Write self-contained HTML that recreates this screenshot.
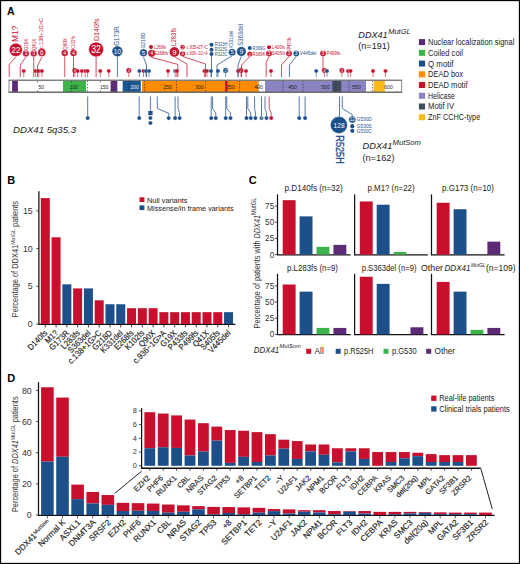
<!DOCTYPE html>
<html><head><meta charset="utf-8"><style>
html,body{margin:0;padding:0;background:#fff;width:520px;height:564px;overflow:hidden}
svg{display:block;font-family:"Liberation Sans", sans-serif}
</style></head><body>
<svg width="520" height="564" viewBox="0 0 520 564">
<rect width="520" height="564" fill="#fff"/>
<text x="7.00" y="14.60" font-size="10.5" fill="#000" font-weight="bold" >A</text>
<rect x="9.00" y="80.40" width="392.60" height="11.80" fill="#fff" />
<rect x="12.10" y="80.40" width="5.80" height="11.80" fill="#5c2b76" />
<rect x="63.00" y="80.40" width="23.00" height="11.80" fill="#3cb44b" />
<rect x="110.60" y="80.40" width="6.70" height="11.80" fill="#5c2b76" />
<rect x="122.70" y="80.40" width="18.10" height="11.80" fill="#1a5893" />
<rect x="142.00" y="80.40" width="116.30" height="11.80" fill="#fd8c00" />
<rect x="225.20" y="80.40" width="2.30" height="11.80" fill="#c8102e" />
<rect x="265.00" y="80.40" width="101.00" height="11.80" fill="#8a84c2" />
<rect x="332.30" y="80.40" width="8.90" height="11.80" fill="#3f4d5e" />
<rect x="373.60" y="80.40" width="11.20" height="11.80" fill="#fbb917" />
<line x1="87.50" y1="80.40" x2="87.50" y2="92.20" stroke="#222" stroke-width="0.6" stroke-dasharray="1.6,1.6"/>
<line x1="144.60" y1="80.40" x2="144.60" y2="92.20" stroke="#222" stroke-width="0.6" stroke-dasharray="1.6,1.6"/>
<line x1="176.50" y1="80.40" x2="176.50" y2="92.20" stroke="#222" stroke-width="0.6" stroke-dasharray="1.6,1.6"/>
<line x1="205.40" y1="80.40" x2="205.40" y2="92.20" stroke="#222" stroke-width="0.6" stroke-dasharray="1.6,1.6"/>
<line x1="239.60" y1="80.40" x2="239.60" y2="92.20" stroke="#222" stroke-width="0.6" stroke-dasharray="1.6,1.6"/>
<line x1="282.90" y1="80.40" x2="282.90" y2="92.20" stroke="#222" stroke-width="0.6" stroke-dasharray="1.6,1.6"/>
<line x1="303.00" y1="80.40" x2="303.00" y2="92.20" stroke="#222" stroke-width="0.6" stroke-dasharray="1.6,1.6"/>
<line x1="335.80" y1="80.40" x2="335.80" y2="92.20" stroke="#222" stroke-width="0.6" stroke-dasharray="1.6,1.6"/>
<line x1="349.20" y1="80.40" x2="349.20" y2="92.20" stroke="#222" stroke-width="0.6" stroke-dasharray="1.6,1.6"/>
<line x1="372.50" y1="80.40" x2="372.50" y2="92.20" stroke="#222" stroke-width="0.6" stroke-dasharray="1.6,1.6"/>
<line x1="128.80" y1="80.40" x2="128.80" y2="92.20" stroke="#222" stroke-width="0.6" stroke-dasharray="1.6,1.6"/>
<line x1="258.80" y1="80.40" x2="258.80" y2="92.20" stroke="#222" stroke-width="0.6" stroke-dasharray="1.6,1.6"/>
<text x="41.20" y="89.30" font-size="5.8" fill="#222" text-anchor="middle" textLength="5.60" lengthAdjust="spacingAndGlyphs" >50</text>
<text x="73.90" y="89.30" font-size="5.8" fill="#222" text-anchor="middle" textLength="8.30" lengthAdjust="spacingAndGlyphs" >100</text>
<text x="104.10" y="89.30" font-size="5.8" fill="#222" text-anchor="middle" textLength="8.30" lengthAdjust="spacingAndGlyphs" >150</text>
<text x="134.70" y="89.30" font-size="5.8" fill="#eef" text-anchor="middle" textLength="8.30" lengthAdjust="spacingAndGlyphs" >200</text>
<text x="167.60" y="89.30" font-size="5.8" fill="#222" text-anchor="middle" textLength="8.30" lengthAdjust="spacingAndGlyphs" >250</text>
<text x="199.30" y="89.30" font-size="5.8" fill="#222" text-anchor="middle" textLength="8.30" lengthAdjust="spacingAndGlyphs" >300</text>
<text x="230.50" y="89.30" font-size="5.8" fill="#222" text-anchor="middle" textLength="8.30" lengthAdjust="spacingAndGlyphs" >350</text>
<text x="258.50" y="89.30" font-size="5.8" fill="#222" text-anchor="middle" textLength="8.30" lengthAdjust="spacingAndGlyphs" >400</text>
<text x="292.50" y="89.30" font-size="5.8" fill="#222" text-anchor="middle" textLength="8.30" lengthAdjust="spacingAndGlyphs" >450</text>
<text x="325.50" y="89.30" font-size="5.8" fill="#222" text-anchor="middle" textLength="8.30" lengthAdjust="spacingAndGlyphs" >500</text>
<text x="356.50" y="89.30" font-size="5.8" fill="#222" text-anchor="middle" textLength="8.30" lengthAdjust="spacingAndGlyphs" >550</text>
<text x="388.50" y="89.30" font-size="5.8" fill="#222" text-anchor="middle" textLength="8.30" lengthAdjust="spacingAndGlyphs" >600</text>
<line x1="37.50" y1="80.40" x2="37.50" y2="82.40" stroke="#222" stroke-width="0.6" />
<line x1="37.50" y1="90.40" x2="37.50" y2="92.20" stroke="#222" stroke-width="0.6" />
<line x1="71.50" y1="80.40" x2="71.50" y2="82.40" stroke="#222" stroke-width="0.6" />
<line x1="71.50" y1="90.40" x2="71.50" y2="92.20" stroke="#222" stroke-width="0.6" />
<line x1="100.40" y1="80.40" x2="100.40" y2="82.40" stroke="#222" stroke-width="0.6" />
<line x1="100.40" y1="90.40" x2="100.40" y2="92.20" stroke="#222" stroke-width="0.6" />
<rect x="9" y="80.40" width="392.6" height="11.80" fill="none" stroke="#8a8a8a" stroke-width="1.0"/>
<line x1="8.50" y1="80.20" x2="402.10" y2="80.20" stroke="rgba(110,110,110,0.7)" stroke-width="1.3" />
<line x1="8.50" y1="92.20" x2="402.10" y2="92.20" stroke="#555" stroke-width="1.0" />
<line x1="23.75" y1="71.00" x2="23.75" y2="77.00" stroke="#c8102e" stroke-width="0.6" />
<line x1="35.60" y1="71.00" x2="35.60" y2="77.00" stroke="#c8102e" stroke-width="0.6" />
<line x1="38.75" y1="71.00" x2="38.75" y2="77.00" stroke="#c8102e" stroke-width="0.6" />
<line x1="41.90" y1="71.00" x2="41.90" y2="77.00" stroke="#c8102e" stroke-width="0.6" />
<line x1="74.80" y1="71.00" x2="74.80" y2="77.00" stroke="#c8102e" stroke-width="0.6" />
<line x1="77.60" y1="71.00" x2="77.60" y2="77.00" stroke="#c8102e" stroke-width="0.6" />
<line x1="81.80" y1="71.00" x2="81.80" y2="77.00" stroke="#c8102e" stroke-width="0.6" />
<line x1="85.20" y1="71.00" x2="85.20" y2="77.00" stroke="#c8102e" stroke-width="0.6" />
<line x1="87.60" y1="71.00" x2="87.60" y2="77.00" stroke="#c8102e" stroke-width="0.6" />
<line x1="100.25" y1="71.00" x2="100.25" y2="77.00" stroke="#c8102e" stroke-width="0.6" />
<line x1="108.75" y1="71.00" x2="108.75" y2="77.00" stroke="#c8102e" stroke-width="0.6" />
<line x1="128.75" y1="71.00" x2="128.75" y2="77.00" stroke="#c8102e" stroke-width="0.6" />
<line x1="139.40" y1="71.00" x2="139.40" y2="77.00" stroke="#1d4f8b" stroke-width="0.6" />
<line x1="143.50" y1="71.00" x2="143.50" y2="77.00" stroke="#c8102e" stroke-width="0.6" />
<line x1="146.00" y1="71.00" x2="146.00" y2="77.00" stroke="#1d4f8b" stroke-width="0.6" />
<line x1="149.00" y1="71.00" x2="149.00" y2="77.00" stroke="#1d4f8b" stroke-width="0.6" />
<line x1="168.00" y1="71.00" x2="168.00" y2="77.00" stroke="#c8102e" stroke-width="0.6" />
<line x1="175.20" y1="71.00" x2="175.20" y2="77.00" stroke="#1d4f8b" stroke-width="0.6" />
<line x1="176.80" y1="71.00" x2="176.80" y2="77.00" stroke="#c8102e" stroke-width="0.6" />
<line x1="204.40" y1="71.00" x2="204.40" y2="77.00" stroke="#c8102e" stroke-width="0.6" />
<line x1="207.00" y1="71.00" x2="207.00" y2="77.00" stroke="#c8102e" stroke-width="0.6" />
<line x1="211.00" y1="71.00" x2="211.00" y2="77.00" stroke="#1d4f8b" stroke-width="0.6" />
<line x1="218.00" y1="71.00" x2="218.00" y2="77.00" stroke="#1d4f8b" stroke-width="0.6" />
<line x1="225.60" y1="71.00" x2="225.60" y2="77.00" stroke="#1d4f8b" stroke-width="0.6" />
<line x1="238.00" y1="71.00" x2="238.00" y2="77.00" stroke="#c8102e" stroke-width="0.6" />
<line x1="241.00" y1="71.00" x2="241.00" y2="77.00" stroke="#c8102e" stroke-width="0.6" />
<line x1="246.00" y1="71.00" x2="246.00" y2="77.00" stroke="#c8102e" stroke-width="0.6" />
<line x1="271.00" y1="71.00" x2="271.00" y2="77.00" stroke="#c8102e" stroke-width="0.6" />
<line x1="316.25" y1="71.00" x2="316.25" y2="77.00" stroke="#1d4f8b" stroke-width="0.6" />
<line x1="324.40" y1="71.00" x2="324.40" y2="77.00" stroke="#c8102e" stroke-width="0.6" />
<line x1="327.00" y1="71.00" x2="327.00" y2="77.00" stroke="#1d4f8b" stroke-width="0.6" />
<line x1="341.90" y1="71.00" x2="341.90" y2="77.00" stroke="#c8102e" stroke-width="0.6" />
<line x1="348.00" y1="71.00" x2="348.00" y2="77.00" stroke="#c8102e" stroke-width="0.6" />
<line x1="350.60" y1="71.00" x2="350.60" y2="77.00" stroke="#c8102e" stroke-width="0.6" />
<line x1="373.00" y1="71.00" x2="373.00" y2="77.00" stroke="#c8102e" stroke-width="0.6" />
<line x1="385.50" y1="71.00" x2="385.50" y2="77.00" stroke="#c8102e" stroke-width="0.6" />
<circle cx="23.75" cy="71.00" r="2.10" fill="#c8102e" stroke="#fff" stroke-width="0.35"/>
<circle cx="35.60" cy="71.00" r="2.10" fill="#c8102e" stroke="#fff" stroke-width="0.35"/>
<circle cx="38.75" cy="71.00" r="2.10" fill="#c8102e" stroke="#fff" stroke-width="0.35"/>
<circle cx="41.90" cy="71.00" r="2.10" fill="#c8102e" stroke="#fff" stroke-width="0.35"/>
<circle cx="74.80" cy="70.40" r="2.60" fill="#c8102e" stroke="#fff" stroke-width="0.35"/>
<text x="74.80" y="72.40" font-size="3.8" fill="#fff" text-anchor="middle" >2</text>
<circle cx="77.60" cy="71.00" r="2.10" fill="#c8102e" stroke="#fff" stroke-width="0.35"/>
<circle cx="81.80" cy="71.00" r="2.10" fill="#c8102e" stroke="#fff" stroke-width="0.35"/>
<circle cx="85.20" cy="71.00" r="2.10" fill="#c8102e" stroke="#fff" stroke-width="0.35"/>
<circle cx="87.60" cy="71.00" r="2.10" fill="#c8102e" stroke="#fff" stroke-width="0.35"/>
<circle cx="100.25" cy="71.00" r="2.10" fill="#c8102e" stroke="#fff" stroke-width="0.35"/>
<circle cx="108.75" cy="71.00" r="2.10" fill="#c8102e" stroke="#fff" stroke-width="0.35"/>
<circle cx="128.75" cy="70.40" r="2.60" fill="#c8102e" stroke="#fff" stroke-width="0.35"/>
<text x="128.75" y="72.40" font-size="3.8" fill="#fff" text-anchor="middle" >2</text>
<circle cx="139.40" cy="71.00" r="2.10" fill="#1d4f8b" stroke="#fff" stroke-width="0.35"/>
<circle cx="143.50" cy="71.00" r="2.10" fill="#c8102e" stroke="#fff" stroke-width="0.35"/>
<circle cx="146.00" cy="71.00" r="2.10" fill="#1d4f8b" stroke="#fff" stroke-width="0.35"/>
<circle cx="149.00" cy="71.00" r="2.10" fill="#1d4f8b" stroke="#fff" stroke-width="0.35"/>
<circle cx="168.00" cy="71.00" r="2.10" fill="#c8102e" stroke="#fff" stroke-width="0.35"/>
<circle cx="175.20" cy="71.00" r="2.10" fill="#1d4f8b" stroke="#fff" stroke-width="0.35"/>
<circle cx="176.80" cy="71.00" r="2.10" fill="#c8102e" stroke="#fff" stroke-width="0.35"/>
<circle cx="204.40" cy="71.00" r="2.10" fill="#c8102e" stroke="#fff" stroke-width="0.35"/>
<circle cx="207.00" cy="71.00" r="2.10" fill="#c8102e" stroke="#fff" stroke-width="0.35"/>
<circle cx="211.00" cy="71.00" r="2.10" fill="#1d4f8b" stroke="#fff" stroke-width="0.35"/>
<circle cx="218.00" cy="71.00" r="2.10" fill="#1d4f8b" stroke="#fff" stroke-width="0.35"/>
<circle cx="225.60" cy="70.40" r="2.60" fill="#1d4f8b" stroke="#fff" stroke-width="0.35"/>
<text x="225.60" y="72.40" font-size="3.8" fill="#fff" text-anchor="middle" >2</text>
<circle cx="238.00" cy="71.00" r="2.10" fill="#c8102e" stroke="#fff" stroke-width="0.35"/>
<circle cx="241.00" cy="70.40" r="2.60" fill="#c8102e" stroke="#fff" stroke-width="0.35"/>
<text x="241.00" y="72.40" font-size="3.8" fill="#fff" text-anchor="middle" >2</text>
<circle cx="246.00" cy="71.00" r="2.10" fill="#c8102e" stroke="#fff" stroke-width="0.35"/>
<circle cx="271.00" cy="71.00" r="2.10" fill="#c8102e" stroke="#fff" stroke-width="0.35"/>
<circle cx="316.25" cy="71.00" r="2.10" fill="#1d4f8b" stroke="#fff" stroke-width="0.35"/>
<circle cx="324.40" cy="70.40" r="2.60" fill="#c8102e" stroke="#fff" stroke-width="0.35"/>
<text x="324.40" y="72.40" font-size="3.8" fill="#fff" text-anchor="middle" >2</text>
<circle cx="327.00" cy="71.00" r="2.10" fill="#1d4f8b" stroke="#fff" stroke-width="0.35"/>
<circle cx="341.90" cy="70.40" r="2.60" fill="#c8102e" stroke="#fff" stroke-width="0.35"/>
<text x="341.90" y="72.40" font-size="3.8" fill="#fff" text-anchor="middle" >2</text>
<circle cx="348.00" cy="71.00" r="2.10" fill="#c8102e" stroke="#fff" stroke-width="0.35"/>
<circle cx="350.60" cy="71.00" r="2.10" fill="#c8102e" stroke="#fff" stroke-width="0.35"/>
<circle cx="373.00" cy="71.00" r="2.10" fill="#c8102e" stroke="#fff" stroke-width="0.35"/>
<circle cx="385.50" cy="71.00" r="2.10" fill="#c8102e" stroke="#fff" stroke-width="0.35"/>
<polyline points="16.00,56.70 9.20,64.60 9.20,77.00" fill="none" stroke="#c8102e" stroke-width="0.75"/>
<polyline points="26.25,56.60 20.30,65.00 20.30,77.00" fill="none" stroke="#c8102e" stroke-width="0.75"/>
<polyline points="33.75,56.50 33.75,77.00" fill="none" stroke="#c8102e" stroke-width="0.75"/>
<polyline points="41.90,57.00 37.50,66.00 37.50,77.00" fill="none" stroke="#c8102e" stroke-width="0.75"/>
<polyline points="64.75,56.40 64.75,77.00" fill="none" stroke="#c8102e" stroke-width="0.75"/>
<polyline points="73.50,56.40 73.50,77.00" fill="none" stroke="#c8102e" stroke-width="0.75"/>
<polyline points="96.10,56.60 96.10,77.00" fill="none" stroke="#c8102e" stroke-width="0.75"/>
<polyline points="117.40,56.40 117.40,77.00" fill="none" stroke="#1d4f8b" stroke-width="0.75"/>
<polyline points="143.50,57.30 146.50,65.00 146.50,77.00" fill="none" stroke="#1d4f8b" stroke-width="0.75"/>
<polyline points="151.25,57.30 177.80,64.40 177.80,77.00" fill="none" stroke="#c8102e" stroke-width="0.75"/>
<polyline points="174.75,57.00 187.00,64.00 187.00,77.00" fill="none" stroke="#c8102e" stroke-width="0.75"/>
<polyline points="182.75,56.50 205.50,64.00 205.50,77.00" fill="none" stroke="#c8102e" stroke-width="0.75"/>
<polyline points="211.50,56.00 211.50,77.00" fill="none" stroke="#1d4f8b" stroke-width="0.75"/>
<polyline points="232.10,55.80 217.00,65.00 217.00,77.00" fill="none" stroke="#1d4f8b" stroke-width="0.75"/>
<polyline points="241.40,56.20 238.00,65.00 238.00,77.00" fill="none" stroke="#1d4f8b" stroke-width="0.75"/>
<polyline points="249.75,56.60 241.50,65.00 241.50,77.00" fill="none" stroke="#c8102e" stroke-width="0.75"/>
<polyline points="269.00,56.50 266.20,62.50 266.20,77.00" fill="none" stroke="#c8102e" stroke-width="0.75"/>
<polyline points="289.00,56.50 281.50,65.00 281.50,77.00" fill="none" stroke="#c8102e" stroke-width="0.75"/>
<polyline points="296.25,56.50 289.40,65.00 289.40,77.00" fill="none" stroke="#1d4f8b" stroke-width="0.75"/>
<polyline points="323.00,56.50 323.00,71.00" fill="none" stroke="#c8102e" stroke-width="0.75"/>
<circle cx="15.80" cy="49.80" r="6.50" fill="#c8102e" stroke="#fff" stroke-width="0.25"/>
<text x="15.80" y="53.28" font-size="9.8" fill="#fff" text-anchor="middle" textLength="9.31" lengthAdjust="spacingAndGlyphs" >22</text>
<circle cx="25.90" cy="53.40" r="3.20" fill="#c8102e" stroke="#fff" stroke-width="0.25"/>
<text x="25.90" y="55.32" font-size="5.4" fill="#fff" text-anchor="middle" >3</text>
<circle cx="33.75" cy="53.40" r="3.20" fill="#c8102e" stroke="#fff" stroke-width="0.25"/>
<text x="33.75" y="55.32" font-size="5.4" fill="#fff" text-anchor="middle" >3</text>
<circle cx="41.80" cy="52.40" r="3.90" fill="#c8102e" stroke="#fff" stroke-width="0.25"/>
<text x="41.80" y="54.67" font-size="6.4" fill="#fff" text-anchor="middle" >6</text>
<circle cx="64.75" cy="53.10" r="3.30" fill="#c8102e" stroke="#fff" stroke-width="0.25"/>
<text x="64.75" y="55.02" font-size="5.4" fill="#fff" text-anchor="middle" >4</text>
<circle cx="73.50" cy="53.10" r="3.30" fill="#c8102e" stroke="#fff" stroke-width="0.25"/>
<text x="73.50" y="55.02" font-size="5.4" fill="#fff" text-anchor="middle" >4</text>
<circle cx="96.10" cy="49.50" r="7.35" fill="#c8102e" stroke="#fff" stroke-width="0.25"/>
<text x="96.10" y="53.12" font-size="10.2" fill="#fff" text-anchor="middle" textLength="9.69" lengthAdjust="spacingAndGlyphs" >32</text>
<circle cx="117.40" cy="51.30" r="5.30" fill="#1d4f8b" stroke="#fff" stroke-width="0.25"/>
<text x="117.40" y="54.00" font-size="7.6" fill="#fff" text-anchor="middle" textLength="7.22" lengthAdjust="spacingAndGlyphs" >10</text>
<circle cx="143.50" cy="52.80" r="3.80" fill="#1d4f8b" stroke="#fff" stroke-width="0.25"/>
<text x="143.50" y="55.00" font-size="6.2" fill="#fff" text-anchor="middle" >5</text>
<circle cx="151.60" cy="53.30" r="3.60" fill="#c8102e" stroke="#fff" stroke-width="0.25"/>
<text x="151.60" y="55.43" font-size="6" fill="#fff" text-anchor="middle" >4</text>
<circle cx="174.40" cy="52.00" r="5.00" fill="#c8102e" stroke="#fff" stroke-width="0.25"/>
<text x="174.40" y="54.77" font-size="7.8" fill="#fff" text-anchor="middle" >9</text>
<circle cx="182.60" cy="53.75" r="2.70" fill="#c8102e" stroke="#fff" stroke-width="0.25"/>
<text x="182.60" y="55.38" font-size="4.6" fill="#fff" text-anchor="middle" >3</text>
<circle cx="182.60" cy="47.25" r="2.40" fill="#c8102e" stroke="#fff" stroke-width="0.25"/>
<text x="182.60" y="48.74" font-size="4.2" fill="#fff" text-anchor="middle" >2</text>
<circle cx="232.10" cy="52.30" r="3.50" fill="#1d4f8b" stroke="#fff" stroke-width="0.25"/>
<text x="232.10" y="54.29" font-size="5.6" fill="#fff" text-anchor="middle" >5</text>
<circle cx="241.40" cy="51.50" r="4.70" fill="#1d4f8b" stroke="#fff" stroke-width="0.25"/>
<text x="241.40" y="53.98" font-size="7" fill="#fff" text-anchor="middle" >9</text>
<circle cx="249.75" cy="54.00" r="2.60" fill="#c8102e" stroke="#fff" stroke-width="0.25"/>
<text x="249.75" y="55.56" font-size="4.4" fill="#fff" text-anchor="middle" >2</text>
<circle cx="269.00" cy="53.50" r="3.00" fill="#c8102e" stroke="#fff" stroke-width="0.25"/>
<text x="269.00" y="55.27" font-size="5" fill="#fff" text-anchor="middle" >3</text>
<circle cx="289.00" cy="53.50" r="3.00" fill="#c8102e" stroke="#fff" stroke-width="0.25"/>
<text x="289.00" y="55.27" font-size="5" fill="#fff" text-anchor="middle" >3</text>
<circle cx="296.25" cy="53.50" r="3.00" fill="#1d4f8b" stroke="#fff" stroke-width="0.25"/>
<text x="296.25" y="55.27" font-size="5" fill="#fff" text-anchor="middle" >3</text>
<circle cx="323.00" cy="53.50" r="3.00" fill="#c8102e" stroke="#fff" stroke-width="0.25"/>
<text x="323.00" y="55.27" font-size="5" fill="#fff" text-anchor="middle" >3</text>
<circle cx="151.00" cy="46.90" r="2.00" fill="#c8102e"/>
<circle cx="211.50" cy="44.75" r="2.00" fill="#1d4f8b"/>
<circle cx="211.50" cy="49.75" r="2.00" fill="#1d4f8b"/>
<circle cx="211.50" cy="54.00" r="2.00" fill="#1d4f8b"/>
<circle cx="249.75" cy="48.10" r="2.00" fill="#1d4f8b"/>
<circle cx="269.00" cy="47.25" r="2.00" fill="#c8102e"/>
<text x="18.14" y="42.00" font-size="9" fill="#c8102e" textLength="16.40" lengthAdjust="spacingAndGlyphs" transform="rotate(-90 18.14 42.00)" font-family='"Liberation Sans", sans-serif'>M1?</text>
<text x="27.93" y="50.30" font-size="4.8" fill="#c8102e" textLength="11.70" lengthAdjust="spacingAndGlyphs" transform="rotate(-90 27.93 50.30)" font-family='"Liberation Sans", sans-serif'>G19X</text>
<text x="35.63" y="50.30" font-size="4.8" fill="#c8102e" textLength="11.70" lengthAdjust="spacingAndGlyphs" transform="rotate(-90 35.63 50.30)" font-family='"Liberation Sans", sans-serif'>Q41X</text>
<text x="43.38" y="49.00" font-size="5.5" fill="#c8102e" textLength="31.00" lengthAdjust="spacingAndGlyphs" transform="rotate(-90 43.38 49.00)" font-family='"Liberation Sans", sans-serif'>c.138+1G&gt;C</text>
<text x="66.63" y="50.00" font-size="4.8" fill="#c8102e" textLength="12.00" lengthAdjust="spacingAndGlyphs" transform="rotate(-90 66.63 50.00)" font-family='"Liberation Sans", sans-serif'>Q90X</text>
<text x="75.33" y="50.00" font-size="4.8" fill="#c8102e" textLength="14.00" lengthAdjust="spacingAndGlyphs" transform="rotate(-90 75.33 50.00)" font-family='"Liberation Sans", sans-serif'>K102fs</text>
<text x="98.81" y="41.00" font-size="7.8" fill="#c8102e" textLength="22.50" lengthAdjust="spacingAndGlyphs" transform="rotate(-90 98.81 41.00)" font-family='"Liberation Sans", sans-serif'>D140fs</text>
<text x="119.19" y="45.70" font-size="7.2" fill="#1d4f8b" textLength="19.50" lengthAdjust="spacingAndGlyphs" transform="rotate(-90 119.19 45.70)" font-family='"Liberation Sans", sans-serif'>G173R</text>
<text x="144.57" y="48.60" font-size="5.2" fill="#1d4f8b" textLength="15.90" lengthAdjust="spacingAndGlyphs" transform="rotate(-90 144.57 48.60)" font-family='"Liberation Sans", sans-serif'>G218D</text>
<text x="176.35" y="45.90" font-size="6.8" fill="#c8102e" textLength="18.00" lengthAdjust="spacingAndGlyphs" transform="rotate(-90 176.35 45.90)" font-family='"Liberation Sans", sans-serif'>L283fs</text>
<text x="233.24" y="48.00" font-size="5.4" fill="#1d4f8b" textLength="17.20" lengthAdjust="spacingAndGlyphs" transform="rotate(-90 233.24 48.00)" font-family='"Liberation Sans", sans-serif'>K331del</text>
<text x="243.39" y="45.80" font-size="7.2" fill="#1d4f8b" textLength="22.00" lengthAdjust="spacingAndGlyphs" transform="rotate(-90 243.39 45.80)" font-family='"Liberation Sans", sans-serif'>S363del</text>
<text x="291.20" y="49.40" font-size="5" fill="#c8102e" textLength="12.10" lengthAdjust="spacingAndGlyphs" transform="rotate(-90 291.20 49.40)" font-family='"Liberation Sans", sans-serif'>P433fs</text>
<text x="154.00" y="48.58" font-size="4.8" fill="#c8102e" textLength="12.00" lengthAdjust="spacingAndGlyphs" >L269fs</text>
<text x="154.00" y="54.78" font-size="4.8" fill="#c8102e" textLength="14.00" lengthAdjust="spacingAndGlyphs" >E268fs</text>
<text x="186.80" y="48.98" font-size="4.8" fill="#c8102e" textLength="21.00" lengthAdjust="spacingAndGlyphs" >c.935+2T&gt;C</text>
<text x="186.80" y="55.48" font-size="4.8" fill="#c8102e" textLength="21.00" lengthAdjust="spacingAndGlyphs" >c.936−1G&gt;A</text>
<text x="214.80" y="46.43" font-size="4.8" fill="#1d4f8b" textLength="12.50" lengthAdjust="spacingAndGlyphs" >R323H</text>
<text x="214.80" y="51.43" font-size="4.8" fill="#1d4f8b" textLength="12.50" lengthAdjust="spacingAndGlyphs" >R323S</text>
<text x="214.80" y="55.68" font-size="4.8" fill="#1d4f8b" textLength="12.50" lengthAdjust="spacingAndGlyphs" >R323C</text>
<text x="252.50" y="49.85" font-size="5" fill="#1d4f8b" textLength="13.00" lengthAdjust="spacingAndGlyphs" >R369G</text>
<text x="252.50" y="55.75" font-size="5" fill="#c8102e" textLength="13.00" lengthAdjust="spacingAndGlyphs" >R369K</text>
<text x="272.00" y="49.00" font-size="5" fill="#c8102e" textLength="13.00" lengthAdjust="spacingAndGlyphs" >L406fs</text>
<text x="272.00" y="55.25" font-size="5" fill="#c8102e" textLength="13.00" lengthAdjust="spacingAndGlyphs" >S405fs</text>
<text x="299.80" y="55.32" font-size="5.2" fill="#1d4f8b" textLength="16.50" lengthAdjust="spacingAndGlyphs" >V445del</text>
<text x="326.80" y="55.32" font-size="5.2" fill="#c8102e" textLength="13.50" lengthAdjust="spacingAndGlyphs" >P499fs</text>
<polyline points="87.70,96.40 87.70,118.10" fill="none" stroke="#1d4f8b" stroke-width="0.75"/>
<polyline points="139.20,96.40 139.20,118.10" fill="none" stroke="#1d4f8b" stroke-width="0.75"/>
<polyline points="157.30,96.40 157.30,108.50 168.70,113.30 168.70,118.10" fill="none" stroke="#1d4f8b" stroke-width="0.75"/>
<polyline points="175.10,96.40 175.10,118.10" fill="none" stroke="#1d4f8b" stroke-width="0.75"/>
<polyline points="178.00,96.40 178.00,108.30 179.60,112.70 179.60,118.10" fill="none" stroke="#1d4f8b" stroke-width="0.75"/>
<polyline points="211.20,96.40 211.20,118.10" fill="none" stroke="#1d4f8b" stroke-width="0.75"/>
<polyline points="212.60,96.40 212.60,108.50 215.80,113.00 215.80,118.10" fill="none" stroke="#1d4f8b" stroke-width="0.75"/>
<polyline points="225.70,96.40 225.70,118.10" fill="none" stroke="#1d4f8b" stroke-width="0.75"/>
<polyline points="226.80,96.40 226.80,108.50 230.50,113.00 230.50,118.10" fill="none" stroke="#1d4f8b" stroke-width="0.75"/>
<polyline points="246.50,96.40 246.50,118.10" fill="none" stroke="#1d4f8b" stroke-width="0.75"/>
<polyline points="247.80,96.40 247.80,108.50 250.80,113.00 250.80,118.10" fill="none" stroke="#1d4f8b" stroke-width="0.75"/>
<polyline points="254.60,96.40 254.60,108.50 255.40,113.00 255.40,118.10" fill="none" stroke="#1d4f8b" stroke-width="0.75"/>
<polyline points="261.50,96.40 261.50,118.10" fill="none" stroke="#1d4f8b" stroke-width="0.75"/>
<polyline points="265.00,96.40 265.00,108.50 266.50,113.00 266.50,118.10" fill="none" stroke="#1d4f8b" stroke-width="0.75"/>
<polyline points="269.20,96.40 269.20,108.50 271.20,113.00 271.20,118.10" fill="none" stroke="#c8102e" stroke-width="0.75"/>
<polyline points="299.20,96.40 299.20,118.10" fill="none" stroke="#1d4f8b" stroke-width="0.75"/>
<polyline points="305.10,96.40 305.10,118.10" fill="none" stroke="#1d4f8b" stroke-width="0.75"/>
<circle cx="87.70" cy="118.10" r="2.10" fill="#1d4f8b" stroke="#fff" stroke-width="0.3"/>
<circle cx="139.20" cy="118.10" r="2.10" fill="#1d4f8b" stroke="#fff" stroke-width="0.3"/>
<circle cx="168.70" cy="118.10" r="2.10" fill="#1d4f8b" stroke="#fff" stroke-width="0.3"/>
<circle cx="175.10" cy="118.10" r="2.10" fill="#1d4f8b" stroke="#fff" stroke-width="0.3"/>
<circle cx="179.60" cy="118.10" r="2.10" fill="#1d4f8b" stroke="#fff" stroke-width="0.3"/>
<circle cx="211.20" cy="118.10" r="2.10" fill="#1d4f8b" stroke="#fff" stroke-width="0.3"/>
<circle cx="215.80" cy="118.10" r="2.10" fill="#1d4f8b" stroke="#fff" stroke-width="0.3"/>
<circle cx="225.70" cy="118.10" r="2.10" fill="#1d4f8b" stroke="#fff" stroke-width="0.3"/>
<circle cx="230.50" cy="118.10" r="2.10" fill="#1d4f8b" stroke="#fff" stroke-width="0.3"/>
<circle cx="246.50" cy="118.10" r="2.10" fill="#1d4f8b" stroke="#fff" stroke-width="0.3"/>
<circle cx="250.80" cy="118.10" r="2.10" fill="#1d4f8b" stroke="#fff" stroke-width="0.3"/>
<circle cx="255.40" cy="118.10" r="2.10" fill="#1d4f8b" stroke="#fff" stroke-width="0.3"/>
<circle cx="261.50" cy="118.10" r="2.10" fill="#1d4f8b" stroke="#fff" stroke-width="0.3"/>
<circle cx="266.50" cy="118.10" r="2.10" fill="#1d4f8b" stroke="#fff" stroke-width="0.3"/>
<circle cx="271.20" cy="118.10" r="2.10" fill="#c8102e" stroke="#fff" stroke-width="0.3"/>
<circle cx="299.20" cy="118.10" r="2.10" fill="#1d4f8b" stroke="#fff" stroke-width="0.3"/>
<circle cx="305.10" cy="118.10" r="2.10" fill="#1d4f8b" stroke="#fff" stroke-width="0.3"/>
<text x="261.50" y="119.40" font-size="3.6" fill="#fff" text-anchor="middle" >2</text>
<line x1="150.40" y1="96.40" x2="150.40" y2="111.00" stroke="#1d4f8b" stroke-width="0.75" />
<rect x="148.30" y="111.00" width="4.30" height="4.20" fill="#1d4f8b" />
<circle cx="150.40" cy="118.00" r="2.10" fill="#1d4f8b" stroke="#fff" stroke-width="0.3"/>
<circle cx="150.40" cy="123.00" r="2.10" fill="#1d4f8b" stroke="#fff" stroke-width="0.3"/>
<line x1="339.50" y1="96.40" x2="339.50" y2="117.00" stroke="#1d4f8b" stroke-width="0.75" />
<circle cx="338.90" cy="125.10" r="8.50" fill="#1d4f8b" stroke="#fff" stroke-width="0.4"/>
<text x="339.10" y="127.90" font-size="7.8" fill="#fff" text-anchor="middle" textLength="11.00" lengthAdjust="spacingAndGlyphs" >128</text>
<text x="336.00" y="135.3" font-size="10" fill="#1d4f8b" stroke="#1d4f8b" stroke-width="0.3" textLength="28.5" lengthAdjust="spacingAndGlyphs" transform="rotate(90 336.00 135.3)" font-family='"Liberation Sans", sans-serif'>R525H</text>
<polyline points="342.30,96.40 342.30,108.50 352.30,114.60 352.30,118.00" fill="none" stroke="#1d4f8b" stroke-width="0.75"/>
<circle cx="352.30" cy="119.50" r="3.50" fill="#1d4f8b" stroke="#fff" stroke-width="0.4"/>
<text x="352.30" y="121.20" font-size="4.5" fill="#fff" text-anchor="middle" >12</text>
<circle cx="352.30" cy="126.20" r="2.10" fill="#1d4f8b"/>
<circle cx="352.30" cy="130.80" r="2.10" fill="#1d4f8b"/>
<text x="356.80" y="121.39" font-size="5.4" fill="#1d4f8b" textLength="15.00" lengthAdjust="spacingAndGlyphs" >G530D</text>
<text x="356.80" y="128.09" font-size="5.4" fill="#1d4f8b" textLength="15.00" lengthAdjust="spacingAndGlyphs" >G530S</text>
<text x="356.80" y="132.69" font-size="5.4" fill="#1d4f8b" textLength="15.00" lengthAdjust="spacingAndGlyphs" >G530C</text>
<text x="358.30" y="37.80" font-size="9.3" fill="#222" font-style="italic" textLength="29.40" lengthAdjust="spacingAndGlyphs" >DDX41</text>
<text x="388.20" y="33.60" font-size="6.4" fill="#222" font-style="italic" textLength="22.50" lengthAdjust="spacingAndGlyphs" >MutGL</text>
<text x="358.30" y="48.50" font-size="9.3" fill="#222" textLength="31.50" lengthAdjust="spacingAndGlyphs" >(n=191)</text>
<text x="362.50" y="149.20" font-size="9.3" fill="#222" font-style="italic" textLength="29.90" lengthAdjust="spacingAndGlyphs" >DDX41</text>
<text x="392.60" y="145.20" font-size="6.4" fill="#222" font-style="italic" textLength="28.30" lengthAdjust="spacingAndGlyphs" >MutSom</text>
<text x="362.50" y="161.30" font-size="9.3" fill="#222" textLength="32.00" lengthAdjust="spacingAndGlyphs" >(n=162)</text>
<text x="13.00" y="132.80" font-size="9.3" fill="#222" font-style="italic" textLength="63.10" lengthAdjust="spacingAndGlyphs" >DDX41 5q35.3</text>
<rect x="418.90" y="39.10" width="6.20" height="6.00" fill="#5c2b76" />
<text x="428.00" y="45.10" font-size="8.3" fill="#222" textLength="86.30" lengthAdjust="spacingAndGlyphs" >Nuclear localization signal</text>
<rect x="418.90" y="49.83" width="6.20" height="6.00" fill="#3cb44b" />
<text x="428.00" y="55.83" font-size="8.3" fill="#222" textLength="35.00" lengthAdjust="spacingAndGlyphs" >Coiled coil</text>
<rect x="418.90" y="60.56" width="6.20" height="6.00" fill="#1d4f8b" />
<text x="428.00" y="66.56" font-size="8.3" fill="#222" textLength="25.40" lengthAdjust="spacingAndGlyphs" >Q motif</text>
<rect x="418.90" y="71.29" width="6.20" height="6.00" fill="#fd8c00" />
<text x="428.00" y="77.29" font-size="8.3" fill="#222" textLength="35.00" lengthAdjust="spacingAndGlyphs" >DEAD box</text>
<rect x="418.90" y="82.02" width="6.20" height="6.00" fill="#c8102e" />
<text x="428.00" y="88.02" font-size="8.3" fill="#222" textLength="39.50" lengthAdjust="spacingAndGlyphs" >DEAD motif</text>
<rect x="418.90" y="92.75" width="6.20" height="6.00" fill="#8a84c2" />
<text x="428.00" y="98.75" font-size="8.3" fill="#222" textLength="26.80" lengthAdjust="spacingAndGlyphs" >Helicase</text>
<rect x="418.90" y="103.48" width="6.20" height="6.00" fill="#3f4d5e" />
<text x="428.00" y="109.48" font-size="8.3" fill="#222" textLength="26.00" lengthAdjust="spacingAndGlyphs" >Motif IV</text>
<rect x="418.90" y="114.21" width="6.20" height="6.00" fill="#fbb917" />
<text x="428.00" y="120.21" font-size="8.3" fill="#222" textLength="52.20" lengthAdjust="spacingAndGlyphs" >ZnF CCHC-type</text>
<text x="7.30" y="183.80" font-size="11" fill="#000" font-weight="bold" >B</text>
<line x1="38.90" y1="191.30" x2="38.90" y2="324.60" stroke="#111" stroke-width="1.25" />
<line x1="38.40" y1="324.40" x2="235.40" y2="324.40" stroke="#111" stroke-width="1.3" />
<line x1="36.30" y1="324.00" x2="38.90" y2="324.00" stroke="#222" stroke-width="0.8" />
<text x="32.70" y="327.10" font-size="8.8" fill="#333" text-anchor="end" >0</text>
<line x1="36.30" y1="286.30" x2="38.90" y2="286.30" stroke="#222" stroke-width="0.8" />
<text x="32.70" y="289.40" font-size="8.8" fill="#333" text-anchor="end" >5</text>
<line x1="36.30" y1="248.60" x2="38.90" y2="248.60" stroke="#222" stroke-width="0.8" />
<text x="32.70" y="251.70" font-size="8.8" fill="#333" text-anchor="end" >10</text>
<line x1="36.30" y1="210.90" x2="38.90" y2="210.90" stroke="#222" stroke-width="0.8" />
<text x="32.70" y="214.00" font-size="8.8" fill="#333" text-anchor="end" >15</text>
<rect x="40.80" y="198.08" width="9.00" height="125.92" fill="#c8102e" />
<line x1="45.30" y1="324.80" x2="45.30" y2="327.40" stroke="#222" stroke-width="0.9" />
<text x="48.00" y="333.60" font-size="8.5" fill="#222" stroke="#222" stroke-width="0.15" text-anchor="end" textLength="24.16" lengthAdjust="spacingAndGlyphs" transform="rotate(-45 48.00 333.60)">D140fs</text>
<rect x="51.58" y="237.29" width="9.00" height="86.71" fill="#c8102e" />
<line x1="56.08" y1="324.80" x2="56.08" y2="327.40" stroke="#222" stroke-width="0.9" />
<text x="58.78" y="333.60" font-size="8.5" fill="#222" stroke="#222" stroke-width="0.15" text-anchor="end" textLength="14.83" lengthAdjust="spacingAndGlyphs" transform="rotate(-45 58.78 333.60)">M1?</text>
<rect x="62.36" y="284.34" width="9.00" height="39.66" fill="#1d4f8b" />
<line x1="66.86" y1="324.80" x2="66.86" y2="327.40" stroke="#222" stroke-width="0.9" />
<text x="69.56" y="333.60" font-size="8.5" fill="#222" stroke="#222" stroke-width="0.15" text-anchor="end" textLength="24.16" lengthAdjust="spacingAndGlyphs" transform="rotate(-45 69.56 333.60)">G173R</text>
<rect x="73.14" y="288.41" width="9.00" height="35.59" fill="#c8102e" />
<line x1="77.64" y1="324.80" x2="77.64" y2="327.40" stroke="#222" stroke-width="0.9" />
<text x="80.34" y="333.60" font-size="8.5" fill="#222" stroke="#222" stroke-width="0.15" text-anchor="end" textLength="22.89" lengthAdjust="spacingAndGlyphs" transform="rotate(-45 80.34 333.60)">L283fs</text>
<rect x="83.92" y="288.41" width="9.00" height="35.59" fill="#1d4f8b" />
<line x1="88.42" y1="324.80" x2="88.42" y2="327.40" stroke="#222" stroke-width="0.9" />
<text x="91.12" y="333.60" font-size="8.5" fill="#222" stroke="#222" stroke-width="0.15" text-anchor="end" textLength="27.99" lengthAdjust="spacingAndGlyphs" transform="rotate(-45 91.12 333.60)">S363del</text>
<rect x="94.70" y="300.32" width="9.00" height="23.68" fill="#c8102e" />
<line x1="99.20" y1="324.80" x2="99.20" y2="327.40" stroke="#222" stroke-width="0.9" />
<text x="101.90" y="333.60" font-size="8.5" fill="#222" stroke="#222" stroke-width="0.15" text-anchor="end" textLength="43.24" lengthAdjust="spacingAndGlyphs" transform="rotate(-45 101.90 333.60)">c.138+1G&gt;C</text>
<rect x="105.48" y="304.25" width="9.00" height="19.75" fill="#1d4f8b" />
<line x1="109.98" y1="324.80" x2="109.98" y2="327.40" stroke="#222" stroke-width="0.9" />
<text x="112.68" y="333.60" font-size="8.5" fill="#222" stroke="#222" stroke-width="0.15" text-anchor="end" textLength="24.16" lengthAdjust="spacingAndGlyphs" transform="rotate(-45 112.68 333.60)">G218D</text>
<rect x="116.26" y="304.25" width="9.00" height="19.75" fill="#1d4f8b" />
<line x1="120.76" y1="324.80" x2="120.76" y2="327.40" stroke="#222" stroke-width="0.9" />
<text x="123.46" y="333.60" font-size="8.5" fill="#222" stroke="#222" stroke-width="0.15" text-anchor="end" textLength="27.99" lengthAdjust="spacingAndGlyphs" transform="rotate(-45 123.46 333.60)">K331del</text>
<rect x="127.04" y="308.17" width="9.00" height="15.83" fill="#c8102e" />
<line x1="131.54" y1="324.80" x2="131.54" y2="327.40" stroke="#222" stroke-width="0.9" />
<text x="134.24" y="333.60" font-size="8.5" fill="#222" stroke="#222" stroke-width="0.15" text-anchor="end" textLength="23.74" lengthAdjust="spacingAndGlyphs" transform="rotate(-45 134.24 333.60)">E268fs</text>
<rect x="137.82" y="308.17" width="9.00" height="15.83" fill="#c8102e" />
<line x1="142.32" y1="324.80" x2="142.32" y2="327.40" stroke="#222" stroke-width="0.9" />
<text x="145.02" y="333.60" font-size="8.5" fill="#222" stroke="#222" stroke-width="0.15" text-anchor="end" textLength="23.74" lengthAdjust="spacingAndGlyphs" transform="rotate(-45 145.02 333.60)">K102fs</text>
<rect x="148.60" y="308.17" width="9.00" height="15.83" fill="#c8102e" />
<line x1="153.10" y1="324.80" x2="153.10" y2="327.40" stroke="#222" stroke-width="0.9" />
<text x="155.80" y="333.60" font-size="8.5" fill="#222" stroke="#222" stroke-width="0.15" text-anchor="end" textLength="19.50" lengthAdjust="spacingAndGlyphs" transform="rotate(-45 155.80 333.60)">Q90X</text>
<rect x="159.38" y="312.16" width="9.00" height="11.84" fill="#c8102e" />
<line x1="163.88" y1="324.80" x2="163.88" y2="327.40" stroke="#222" stroke-width="0.9" />
<text x="166.58" y="333.60" font-size="8.5" fill="#222" stroke="#222" stroke-width="0.15" text-anchor="end" textLength="42.82" lengthAdjust="spacingAndGlyphs" transform="rotate(-45 166.58 333.60)">c.936−1G&gt;A</text>
<rect x="170.16" y="312.16" width="9.00" height="11.84" fill="#c8102e" />
<line x1="174.66" y1="324.80" x2="174.66" y2="327.40" stroke="#222" stroke-width="0.9" />
<text x="177.36" y="333.60" font-size="8.5" fill="#222" stroke="#222" stroke-width="0.15" text-anchor="end" textLength="19.50" lengthAdjust="spacingAndGlyphs" transform="rotate(-45 177.36 333.60)">G19X</text>
<rect x="180.94" y="312.16" width="9.00" height="11.84" fill="#c8102e" />
<line x1="185.44" y1="324.80" x2="185.44" y2="327.40" stroke="#222" stroke-width="0.9" />
<text x="188.14" y="333.60" font-size="8.5" fill="#222" stroke="#222" stroke-width="0.15" text-anchor="end" textLength="23.74" lengthAdjust="spacingAndGlyphs" transform="rotate(-45 188.14 333.60)">P433fs</text>
<rect x="191.72" y="312.16" width="9.00" height="11.84" fill="#c8102e" />
<line x1="196.22" y1="324.80" x2="196.22" y2="327.40" stroke="#222" stroke-width="0.9" />
<text x="198.92" y="333.60" font-size="8.5" fill="#222" stroke="#222" stroke-width="0.15" text-anchor="end" textLength="23.74" lengthAdjust="spacingAndGlyphs" transform="rotate(-45 198.92 333.60)">P499fs</text>
<rect x="202.50" y="312.16" width="9.00" height="11.84" fill="#c8102e" />
<line x1="207.00" y1="324.80" x2="207.00" y2="327.40" stroke="#222" stroke-width="0.9" />
<text x="209.70" y="333.60" font-size="8.5" fill="#222" stroke="#222" stroke-width="0.15" text-anchor="end" textLength="19.50" lengthAdjust="spacingAndGlyphs" transform="rotate(-45 209.70 333.60)">Q41X</text>
<rect x="213.28" y="312.16" width="9.00" height="11.84" fill="#c8102e" />
<line x1="217.78" y1="324.80" x2="217.78" y2="327.40" stroke="#222" stroke-width="0.9" />
<text x="220.48" y="333.60" font-size="8.5" fill="#222" stroke="#222" stroke-width="0.15" text-anchor="end" textLength="23.74" lengthAdjust="spacingAndGlyphs" transform="rotate(-45 220.48 333.60)">S405fs</text>
<rect x="224.06" y="312.16" width="9.00" height="11.84" fill="#1d4f8b" />
<line x1="228.56" y1="324.80" x2="228.56" y2="327.40" stroke="#222" stroke-width="0.9" />
<text x="231.26" y="333.60" font-size="8.5" fill="#222" stroke="#222" stroke-width="0.15" text-anchor="end" textLength="27.99" lengthAdjust="spacingAndGlyphs" transform="rotate(-45 231.26 333.60)">V445del</text>
<text x="18.7" y="317.6" font-size="8.8" fill="#333" textLength="116.3" lengthAdjust="spacingAndGlyphs" transform="rotate(-90 18.3 317.6)"><tspan>Percentage of DDX41</tspan><tspan font-size="6.2" dy="-3.2">MutGL</tspan><tspan dy="3.2"> patients</tspan></text>
<rect x="139.50" y="197.30" width="4.90" height="4.70" fill="#c8102e" />
<text x="147.00" y="202.60" font-size="8.0" fill="#222" textLength="40.50" lengthAdjust="spacingAndGlyphs" >Null variants</text>
<rect x="139.50" y="205.40" width="4.90" height="4.70" fill="#1d4f8b" />
<text x="147.00" y="210.60" font-size="8.0" fill="#222" textLength="86.70" lengthAdjust="spacingAndGlyphs" >Missense/in frame variants</text>
<text x="248.80" y="183.80" font-size="11" fill="#000" font-weight="bold" >C</text>
<line x1="277.50" y1="194.40" x2="277.50" y2="255.20" stroke="#111" stroke-width="1.25" />
<line x1="277.00" y1="254.90" x2="350.60" y2="254.90" stroke="#111" stroke-width="1.25" />
<rect x="282.70" y="200.17" width="12.90" height="54.43" fill="#c8102e" />
<rect x="299.60" y="216.37" width="12.90" height="38.23" fill="#1d4f8b" />
<rect x="316.50" y="246.82" width="12.90" height="7.78" fill="#3cb44b" />
<rect x="333.40" y="244.88" width="12.90" height="9.72" fill="#5c2b76" />
<line x1="275.00" y1="254.60" x2="277.50" y2="254.60" stroke="#222" stroke-width="0.8" />
<text x="274.20" y="257.50" font-size="8.2" fill="#333" text-anchor="end" >0</text>
<line x1="275.00" y1="238.40" x2="277.50" y2="238.40" stroke="#222" stroke-width="0.8" />
<text x="274.20" y="241.30" font-size="8.2" fill="#333" text-anchor="end" >25</text>
<line x1="275.00" y1="222.20" x2="277.50" y2="222.20" stroke="#222" stroke-width="0.8" />
<text x="274.20" y="225.10" font-size="8.2" fill="#333" text-anchor="end" >50</text>
<line x1="275.00" y1="206.00" x2="277.50" y2="206.00" stroke="#222" stroke-width="0.8" />
<text x="274.20" y="208.90" font-size="8.2" fill="#333" text-anchor="end" >75</text>
<text x="284.60" y="191.00" font-size="8.6" fill="#222" textLength="58.20" lengthAdjust="spacingAndGlyphs" >p.D140fs (n=32)</text>
<line x1="354.60" y1="194.40" x2="354.60" y2="255.20" stroke="#111" stroke-width="1.25" />
<line x1="354.10" y1="254.90" x2="427.70" y2="254.90" stroke="#111" stroke-width="1.25" />
<rect x="359.80" y="201.46" width="12.90" height="53.14" fill="#c8102e" />
<rect x="376.70" y="204.70" width="12.90" height="49.90" fill="#1d4f8b" />
<rect x="393.60" y="252.01" width="12.90" height="2.59" fill="#3cb44b" />
<text x="367.50" y="191.00" font-size="8.6" fill="#222" textLength="47.10" lengthAdjust="spacingAndGlyphs" >p.M1? (n=22)</text>
<line x1="431.50" y1="194.40" x2="431.50" y2="255.20" stroke="#111" stroke-width="1.25" />
<line x1="431.00" y1="254.90" x2="504.60" y2="254.90" stroke="#111" stroke-width="1.25" />
<rect x="436.70" y="202.76" width="12.90" height="51.84" fill="#c8102e" />
<rect x="453.60" y="209.24" width="12.90" height="45.36" fill="#1d4f8b" />
<rect x="487.40" y="241.64" width="12.90" height="12.96" fill="#5c2b76" />
<text x="442.00" y="191.00" font-size="8.6" fill="#222" textLength="52.00" lengthAdjust="spacingAndGlyphs" >p.G173 (n=10)</text>
<line x1="277.50" y1="273.80" x2="277.50" y2="335.00" stroke="#111" stroke-width="1.25" />
<line x1="277.00" y1="334.70" x2="350.60" y2="334.70" stroke="#111" stroke-width="1.25" />
<rect x="282.70" y="284.50" width="12.90" height="49.90" fill="#c8102e" />
<rect x="299.60" y="291.63" width="12.90" height="42.77" fill="#1d4f8b" />
<rect x="316.50" y="327.92" width="12.90" height="6.48" fill="#3cb44b" />
<rect x="333.40" y="327.92" width="12.90" height="6.48" fill="#5c2b76" />
<line x1="275.00" y1="334.40" x2="277.50" y2="334.40" stroke="#222" stroke-width="0.8" />
<text x="274.20" y="337.30" font-size="8.2" fill="#333" text-anchor="end" >0</text>
<line x1="275.00" y1="318.20" x2="277.50" y2="318.20" stroke="#222" stroke-width="0.8" />
<text x="274.20" y="321.10" font-size="8.2" fill="#333" text-anchor="end" >25</text>
<line x1="275.00" y1="302.00" x2="277.50" y2="302.00" stroke="#222" stroke-width="0.8" />
<text x="274.20" y="304.90" font-size="8.2" fill="#333" text-anchor="end" >50</text>
<line x1="275.00" y1="285.80" x2="277.50" y2="285.80" stroke="#222" stroke-width="0.8" />
<text x="274.20" y="288.70" font-size="8.2" fill="#333" text-anchor="end" >75</text>
<text x="287.00" y="270.60" font-size="8.6" fill="#222" textLength="51.00" lengthAdjust="spacingAndGlyphs" >p.L283fs (n=9)</text>
<line x1="354.60" y1="273.80" x2="354.60" y2="335.00" stroke="#111" stroke-width="1.25" />
<line x1="354.10" y1="334.70" x2="427.70" y2="334.70" stroke="#111" stroke-width="1.25" />
<rect x="359.80" y="276.73" width="12.90" height="57.67" fill="#c8102e" />
<rect x="376.70" y="283.86" width="12.90" height="50.54" fill="#1d4f8b" />
<rect x="410.50" y="327.27" width="12.90" height="7.13" fill="#5c2b76" />
<text x="361.70" y="270.60" font-size="8.6" fill="#222" textLength="54.80" lengthAdjust="spacingAndGlyphs" >p.S363del (n=9)</text>
<line x1="431.50" y1="273.80" x2="431.50" y2="335.00" stroke="#111" stroke-width="1.25" />
<line x1="431.00" y1="334.70" x2="504.60" y2="334.70" stroke="#111" stroke-width="1.25" />
<rect x="436.70" y="281.91" width="12.90" height="52.49" fill="#c8102e" />
<rect x="453.60" y="291.63" width="12.90" height="42.77" fill="#1d4f8b" />
<rect x="470.50" y="329.86" width="12.90" height="4.54" fill="#3cb44b" />
<rect x="487.40" y="327.92" width="12.90" height="6.48" fill="#5c2b76" />
<text x="421.00" y="270.60" font-size="8.4" fill="#222" textLength="22.00" lengthAdjust="spacingAndGlyphs" >Other </text>
<text x="444.50" y="270.60" font-size="8.4" fill="#222" font-style="italic" textLength="26.00" lengthAdjust="spacingAndGlyphs" >DDX41</text>
<text x="471.00" y="266.80" font-size="5.4" fill="#222" font-style="italic" textLength="14.50" lengthAdjust="spacingAndGlyphs" >MutGL</text>
<text x="486.00" y="270.60" font-size="8.4" fill="#222" textLength="29.60" lengthAdjust="spacingAndGlyphs" >(n=109)</text>
<text x="260.2" y="328.8" font-size="8.8" fill="#333" textLength="130.8" lengthAdjust="spacingAndGlyphs" transform="rotate(-90 259.8 328.8)"><tspan>Percentage of patients with </tspan><tspan font-style="italic">DDX41</tspan><tspan font-size="7" dy="-3.4">MutGL</tspan></text>
<text x="253.80" y="353.00" font-size="9" fill="#222" font-style="italic" textLength="25.40" lengthAdjust="spacingAndGlyphs" >DDX41</text>
<text x="279.50" y="347.60" font-size="6" fill="#222" font-style="italic" textLength="21.30" lengthAdjust="spacingAndGlyphs" >MutSom</text>
<rect x="306.20" y="348.80" width="5.00" height="5.00" fill="#c8102e" />
<text x="314.60" y="354.30" font-size="8.3" fill="#222" textLength="9.20" lengthAdjust="spacingAndGlyphs" >All</text>
<rect x="335.70" y="348.80" width="5.00" height="5.00" fill="#1d4f8b" />
<text x="344.10" y="354.30" font-size="8.3" fill="#222" textLength="29.30" lengthAdjust="spacingAndGlyphs" >p.R525H</text>
<rect x="383.50" y="348.80" width="5.00" height="5.00" fill="#3cb44b" />
<text x="391.90" y="354.30" font-size="8.3" fill="#222" textLength="24.70" lengthAdjust="spacingAndGlyphs" >p.G530</text>
<rect x="426.20" y="348.80" width="5.00" height="5.00" fill="#5c2b76" />
<text x="434.60" y="354.30" font-size="8.3" fill="#222" textLength="20.50" lengthAdjust="spacingAndGlyphs" >Other</text>
<text x="7.30" y="381.90" font-size="11" fill="#000" font-weight="bold" >D</text>
<line x1="38.50" y1="382.20" x2="38.50" y2="515.60" stroke="#111" stroke-width="1.25" />
<line x1="38.00" y1="515.40" x2="494.60" y2="515.40" stroke="#111" stroke-width="1.3" />
<line x1="35.90" y1="515.00" x2="38.50" y2="515.00" stroke="#222" stroke-width="0.8" />
<text x="31.70" y="518.10" font-size="8.8" fill="#333" text-anchor="end" >0</text>
<line x1="35.90" y1="483.85" x2="38.50" y2="483.85" stroke="#222" stroke-width="0.8" />
<text x="31.70" y="486.95" font-size="8.8" fill="#333" text-anchor="end" >20</text>
<line x1="35.90" y1="452.70" x2="38.50" y2="452.70" stroke="#222" stroke-width="0.8" />
<text x="31.70" y="455.80" font-size="8.8" fill="#333" text-anchor="end" >40</text>
<line x1="35.90" y1="421.55" x2="38.50" y2="421.55" stroke="#222" stroke-width="0.8" />
<text x="31.70" y="424.65" font-size="8.8" fill="#333" text-anchor="end" >60</text>
<line x1="35.90" y1="390.40" x2="38.50" y2="390.40" stroke="#222" stroke-width="0.8" />
<text x="31.70" y="393.50" font-size="8.8" fill="#333" text-anchor="end" >80</text>
<rect x="41.10" y="387.28" width="12.60" height="74.29" fill="#c8102e" />
<rect x="41.10" y="461.58" width="12.60" height="53.42" fill="#1d4f8b" />
<line x1="47.40" y1="515.90" x2="47.40" y2="518.40" stroke="#222" stroke-width="0.7" />
<text x="50.80" y="522.90" font-size="8.3" fill="#222" stroke="#222" stroke-width="0.15" text-anchor="end" transform="rotate(-45 50.80 522.90)">DDX41<tspan font-size="5.2" dy="-2.5">MutSom</tspan></text>
<rect x="56.21" y="397.56" width="12.60" height="59.19" fill="#c8102e" />
<rect x="56.21" y="456.75" width="12.60" height="58.25" fill="#1d4f8b" />
<line x1="62.51" y1="515.90" x2="62.51" y2="518.40" stroke="#222" stroke-width="0.7" />
<text x="65.91" y="522.90" font-size="8.3" fill="#222" stroke="#222" stroke-width="0.15" text-anchor="end" transform="rotate(-45 65.91 522.90)">Normal K</text>
<rect x="71.31" y="484.63" width="12.60" height="14.48" fill="#c8102e" />
<rect x="71.31" y="499.11" width="12.60" height="15.89" fill="#1d4f8b" />
<line x1="77.61" y1="515.90" x2="77.61" y2="518.40" stroke="#222" stroke-width="0.7" />
<text x="81.01" y="522.90" font-size="8.3" fill="#222" stroke="#222" stroke-width="0.15" text-anchor="end" transform="rotate(-45 81.01 522.90)">ASXL1</text>
<rect x="86.42" y="491.95" width="12.60" height="11.53" fill="#c8102e" />
<rect x="86.42" y="503.47" width="12.60" height="11.53" fill="#1d4f8b" />
<line x1="92.72" y1="515.90" x2="92.72" y2="518.40" stroke="#222" stroke-width="0.7" />
<text x="96.12" y="522.90" font-size="8.3" fill="#222" stroke="#222" stroke-width="0.15" text-anchor="end" transform="rotate(-45 96.12 522.90)">DNMT3A</text>
<rect x="101.53" y="495.06" width="12.60" height="9.81" fill="#c8102e" />
<rect x="101.53" y="504.88" width="12.60" height="10.12" fill="#1d4f8b" />
<line x1="107.83" y1="515.90" x2="107.83" y2="518.40" stroke="#222" stroke-width="0.7" />
<text x="111.23" y="522.90" font-size="8.3" fill="#222" stroke="#222" stroke-width="0.15" text-anchor="end" transform="rotate(-45 111.23 522.90)">SRSF2</text>
<rect x="116.63" y="502.85" width="12.60" height="8.16" fill="#c8102e" />
<rect x="116.63" y="511.01" width="12.60" height="3.99" fill="#1d4f8b" />
<line x1="122.93" y1="515.90" x2="122.93" y2="518.40" stroke="#222" stroke-width="0.7" />
<text x="126.33" y="522.90" font-size="8.3" fill="#222" stroke="#222" stroke-width="0.15" text-anchor="end" transform="rotate(-45 126.33 522.90)">EZH2</text>
<rect x="131.74" y="503.16" width="12.60" height="7.63" fill="#c8102e" />
<rect x="131.74" y="510.79" width="12.60" height="4.21" fill="#1d4f8b" />
<line x1="138.04" y1="515.90" x2="138.04" y2="518.40" stroke="#222" stroke-width="0.7" />
<text x="141.44" y="522.90" font-size="8.3" fill="#222" stroke="#222" stroke-width="0.15" text-anchor="end" transform="rotate(-45 141.44 522.90)">PHF6</text>
<rect x="146.85" y="503.58" width="12.60" height="7.37" fill="#c8102e" />
<rect x="146.85" y="510.95" width="12.60" height="4.05" fill="#1d4f8b" />
<line x1="153.15" y1="515.90" x2="153.15" y2="518.40" stroke="#222" stroke-width="0.7" />
<text x="156.55" y="522.90" font-size="8.3" fill="#222" stroke="#222" stroke-width="0.15" text-anchor="end" transform="rotate(-45 156.55 522.90)">RUNX1</text>
<rect x="161.96" y="504.52" width="12.60" height="8.15" fill="#c8102e" />
<rect x="161.96" y="512.66" width="12.60" height="2.34" fill="#1d4f8b" />
<line x1="168.26" y1="515.90" x2="168.26" y2="518.40" stroke="#222" stroke-width="0.7" />
<text x="171.66" y="522.90" font-size="8.3" fill="#222" stroke="#222" stroke-width="0.15" text-anchor="end" transform="rotate(-45 171.66 522.90)">CBL</text>
<rect x="177.06" y="505.34" width="12.60" height="6.43" fill="#c8102e" />
<rect x="177.06" y="511.78" width="12.60" height="3.22" fill="#1d4f8b" />
<line x1="183.36" y1="515.90" x2="183.36" y2="518.40" stroke="#222" stroke-width="0.7" />
<text x="186.76" y="522.90" font-size="8.3" fill="#222" stroke="#222" stroke-width="0.15" text-anchor="end" transform="rotate(-45 186.76 522.90)">NRAS</text>
<rect x="192.17" y="506.12" width="12.60" height="3.18" fill="#c8102e" />
<rect x="192.17" y="509.30" width="12.60" height="5.70" fill="#1d4f8b" />
<line x1="198.47" y1="515.90" x2="198.47" y2="518.40" stroke="#222" stroke-width="0.7" />
<text x="201.87" y="522.90" font-size="8.3" fill="#222" stroke="#222" stroke-width="0.15" text-anchor="end" transform="rotate(-45 201.87 522.90)">STAG2</text>
<rect x="207.28" y="506.90" width="12.60" height="7.44" fill="#c8102e" />
<rect x="207.28" y="514.35" width="12.60" height="0.65" fill="#1d4f8b" />
<line x1="213.58" y1="515.90" x2="213.58" y2="518.40" stroke="#222" stroke-width="0.7" />
<text x="216.98" y="522.90" font-size="8.3" fill="#222" stroke="#222" stroke-width="0.15" text-anchor="end" transform="rotate(-45 216.98 522.90)">TP53</text>
<rect x="222.38" y="507.06" width="12.60" height="5.92" fill="#c8102e" />
<rect x="222.38" y="512.98" width="12.60" height="2.02" fill="#1d4f8b" />
<line x1="228.68" y1="515.90" x2="228.68" y2="518.40" stroke="#222" stroke-width="0.7" />
<text x="232.08" y="522.90" font-size="8.3" fill="#222" stroke="#222" stroke-width="0.15" text-anchor="end" transform="rotate(-45 232.08 522.90)">+8</text>
<rect x="237.49" y="507.37" width="12.60" height="6.78" fill="#c8102e" />
<rect x="237.49" y="514.14" width="12.60" height="0.86" fill="#1d4f8b" />
<line x1="243.79" y1="515.90" x2="243.79" y2="518.40" stroke="#222" stroke-width="0.7" />
<text x="247.19" y="522.90" font-size="8.3" fill="#222" stroke="#222" stroke-width="0.15" text-anchor="end" transform="rotate(-45 247.19 522.90)">SETBP1</text>
<rect x="252.60" y="507.84" width="12.60" height="4.83" fill="#c8102e" />
<rect x="252.60" y="512.66" width="12.60" height="2.34" fill="#1d4f8b" />
<line x1="258.90" y1="515.90" x2="258.90" y2="518.40" stroke="#222" stroke-width="0.7" />
<text x="262.30" y="522.90" font-size="8.3" fill="#222" stroke="#222" stroke-width="0.15" text-anchor="end" transform="rotate(-45 262.30 522.90)">TET2</text>
<rect x="267.70" y="509.08" width="12.60" height="2.02" fill="#c8102e" />
<rect x="267.70" y="511.11" width="12.60" height="3.89" fill="#1d4f8b" />
<line x1="274.00" y1="515.90" x2="274.00" y2="518.40" stroke="#222" stroke-width="0.7" />
<text x="277.40" y="522.90" font-size="8.3" fill="#222" stroke="#222" stroke-width="0.15" text-anchor="end" transform="rotate(-45 277.40 522.90)">−Y</text>
<rect x="282.81" y="509.39" width="12.60" height="4.05" fill="#c8102e" />
<rect x="282.81" y="513.44" width="12.60" height="1.56" fill="#1d4f8b" />
<line x1="289.11" y1="515.90" x2="289.11" y2="518.40" stroke="#222" stroke-width="0.7" />
<text x="292.51" y="522.90" font-size="8.3" fill="#222" stroke="#222" stroke-width="0.15" text-anchor="end" transform="rotate(-45 292.51 522.90)">U2AF1</text>
<rect x="297.92" y="510.17" width="12.60" height="1.56" fill="#c8102e" />
<rect x="297.92" y="511.73" width="12.60" height="3.27" fill="#1d4f8b" />
<line x1="304.22" y1="515.90" x2="304.22" y2="518.40" stroke="#222" stroke-width="0.7" />
<text x="307.62" y="522.90" font-size="8.3" fill="#222" stroke="#222" stroke-width="0.15" text-anchor="end" transform="rotate(-45 307.62 522.90)">JAK2</text>
<rect x="313.03" y="510.17" width="12.60" height="2.34" fill="#c8102e" />
<rect x="313.03" y="512.51" width="12.60" height="2.49" fill="#1d4f8b" />
<line x1="319.33" y1="515.90" x2="319.33" y2="518.40" stroke="#222" stroke-width="0.7" />
<text x="322.73" y="522.90" font-size="8.3" fill="#222" stroke="#222" stroke-width="0.15" text-anchor="end" transform="rotate(-45 322.73 522.90)">NPM1</text>
<rect x="328.13" y="511.03" width="12.60" height="3.19" fill="#c8102e" />
<rect x="328.13" y="514.22" width="12.60" height="0.78" fill="#1d4f8b" />
<line x1="334.43" y1="515.90" x2="334.43" y2="518.40" stroke="#222" stroke-width="0.7" />
<text x="337.83" y="522.90" font-size="8.3" fill="#222" stroke="#222" stroke-width="0.15" text-anchor="end" transform="rotate(-45 337.83 522.90)">BCOR</text>
<rect x="343.24" y="511.03" width="12.60" height="0.70" fill="#c8102e" />
<rect x="343.24" y="511.73" width="12.60" height="3.27" fill="#1d4f8b" />
<line x1="349.54" y1="515.90" x2="349.54" y2="518.40" stroke="#222" stroke-width="0.7" />
<text x="352.94" y="522.90" font-size="8.3" fill="#222" stroke="#222" stroke-width="0.15" text-anchor="end" transform="rotate(-45 352.94 522.90)">FLT3</text>
<rect x="358.35" y="511.03" width="12.60" height="2.41" fill="#c8102e" />
<rect x="358.35" y="513.44" width="12.60" height="1.56" fill="#1d4f8b" />
<line x1="364.65" y1="515.90" x2="364.65" y2="518.40" stroke="#222" stroke-width="0.7" />
<text x="368.05" y="522.90" font-size="8.3" fill="#222" stroke="#222" stroke-width="0.15" text-anchor="end" transform="rotate(-45 368.05 522.90)">IDH2</text>
<rect x="373.45" y="511.88" width="12.60" height="3.12" fill="#c8102e" />
<line x1="379.75" y1="515.90" x2="379.75" y2="518.40" stroke="#222" stroke-width="0.7" />
<text x="383.15" y="522.90" font-size="8.3" fill="#222" stroke="#222" stroke-width="0.15" text-anchor="end" transform="rotate(-45 383.15 522.90)">CEBPA</text>
<rect x="388.56" y="511.88" width="12.60" height="2.26" fill="#c8102e" />
<rect x="388.56" y="514.14" width="12.60" height="0.86" fill="#1d4f8b" />
<line x1="394.86" y1="515.90" x2="394.86" y2="518.40" stroke="#222" stroke-width="0.7" />
<text x="398.26" y="522.90" font-size="8.3" fill="#222" stroke="#222" stroke-width="0.15" text-anchor="end" transform="rotate(-45 398.26 522.90)">KRAS</text>
<rect x="403.67" y="511.88" width="12.60" height="1.40" fill="#c8102e" />
<rect x="403.67" y="513.29" width="12.60" height="1.71" fill="#1d4f8b" />
<line x1="409.97" y1="515.90" x2="409.97" y2="518.40" stroke="#222" stroke-width="0.7" />
<text x="413.37" y="522.90" font-size="8.3" fill="#222" stroke="#222" stroke-width="0.15" text-anchor="end" transform="rotate(-45 413.37 522.90)">SMC3</text>
<rect x="418.77" y="512.04" width="12.60" height="0.78" fill="#c8102e" />
<rect x="418.77" y="512.82" width="12.60" height="2.18" fill="#1d4f8b" />
<line x1="425.07" y1="515.90" x2="425.07" y2="518.40" stroke="#222" stroke-width="0.7" />
<text x="428.47" y="522.90" font-size="8.3" fill="#222" stroke="#222" stroke-width="0.15" text-anchor="end" transform="rotate(-45 428.47 522.90)">del(20q)</text>
<rect x="433.88" y="512.35" width="12.60" height="1.79" fill="#c8102e" />
<rect x="433.88" y="514.14" width="12.60" height="0.86" fill="#1d4f8b" />
<line x1="440.18" y1="515.90" x2="440.18" y2="518.40" stroke="#222" stroke-width="0.7" />
<text x="443.58" y="522.90" font-size="8.3" fill="#222" stroke="#222" stroke-width="0.15" text-anchor="end" transform="rotate(-45 443.58 522.90)">MPL</text>
<rect x="448.99" y="512.59" width="12.60" height="1.56" fill="#c8102e" />
<rect x="448.99" y="514.14" width="12.60" height="0.86" fill="#1d4f8b" />
<line x1="455.29" y1="515.90" x2="455.29" y2="518.40" stroke="#222" stroke-width="0.7" />
<text x="458.69" y="522.90" font-size="8.3" fill="#222" stroke="#222" stroke-width="0.15" text-anchor="end" transform="rotate(-45 458.69 522.90)">GATA2</text>
<rect x="464.10" y="512.59" width="12.60" height="1.56" fill="#c8102e" />
<rect x="464.10" y="514.14" width="12.60" height="0.86" fill="#1d4f8b" />
<line x1="470.40" y1="515.90" x2="470.40" y2="518.40" stroke="#222" stroke-width="0.7" />
<text x="473.80" y="522.90" font-size="8.3" fill="#222" stroke="#222" stroke-width="0.15" text-anchor="end" transform="rotate(-45 473.80 522.90)">SF3B1</text>
<rect x="479.20" y="512.59" width="12.60" height="2.41" fill="#c8102e" />
<line x1="485.50" y1="515.90" x2="485.50" y2="518.40" stroke="#222" stroke-width="0.7" />
<text x="488.90" y="522.90" font-size="8.3" fill="#222" stroke="#222" stroke-width="0.15" text-anchor="end" transform="rotate(-45 488.90 522.90)">ZRSR2</text>
<line x1="141.60" y1="408.10" x2="141.60" y2="468.40" stroke="#111" stroke-width="1.25" />
<line x1="141.10" y1="468.20" x2="480.80" y2="468.20" stroke="#111" stroke-width="1.5" />
<line x1="139.00" y1="465.80" x2="141.60" y2="465.80" stroke="#222" stroke-width="0.8" />
<text x="136.80" y="468.20" font-size="7.4" fill="#333" text-anchor="end" >0</text>
<line x1="139.00" y1="452.05" x2="141.60" y2="452.05" stroke="#222" stroke-width="0.8" />
<text x="136.80" y="454.45" font-size="7.4" fill="#333" text-anchor="end" >2</text>
<line x1="139.00" y1="438.30" x2="141.60" y2="438.30" stroke="#222" stroke-width="0.8" />
<text x="136.80" y="440.70" font-size="7.4" fill="#333" text-anchor="end" >4</text>
<line x1="139.00" y1="424.55" x2="141.60" y2="424.55" stroke="#222" stroke-width="0.8" />
<text x="136.80" y="426.95" font-size="7.4" fill="#333" text-anchor="end" >6</text>
<line x1="139.00" y1="410.80" x2="141.60" y2="410.80" stroke="#222" stroke-width="0.8" />
<text x="136.80" y="413.20" font-size="7.4" fill="#333" text-anchor="end" >8</text>
<rect x="144.40" y="412.18" width="10.80" height="36.02" fill="#c8102e" />
<rect x="144.40" y="448.20" width="10.80" height="17.60" fill="#1d4f8b" />
<line x1="149.80" y1="468.40" x2="149.80" y2="470.80" stroke="#222" stroke-width="0.8" />
<text x="150.40" y="478.40" font-size="7.6" fill="#222" stroke="#222" stroke-width="0.15" text-anchor="end" transform="rotate(-45 150.40 478.40)">EZH2</text>
<rect x="157.80" y="413.55" width="10.80" height="33.69" fill="#c8102e" />
<rect x="157.80" y="447.24" width="10.80" height="18.56" fill="#1d4f8b" />
<line x1="163.20" y1="468.40" x2="163.20" y2="470.80" stroke="#222" stroke-width="0.8" />
<text x="163.80" y="478.40" font-size="7.6" fill="#222" stroke="#222" stroke-width="0.15" text-anchor="end" transform="rotate(-45 163.80 478.40)">PHF6</text>
<rect x="171.20" y="415.41" width="10.80" height="32.52" fill="#c8102e" />
<rect x="171.20" y="447.93" width="10.80" height="17.88" fill="#1d4f8b" />
<line x1="176.60" y1="468.40" x2="176.60" y2="470.80" stroke="#222" stroke-width="0.8" />
<text x="177.20" y="478.40" font-size="7.6" fill="#222" stroke="#222" stroke-width="0.15" text-anchor="end" transform="rotate(-45 177.20 478.40)">RUNX1</text>
<rect x="184.60" y="419.53" width="10.80" height="35.96" fill="#c8102e" />
<rect x="184.60" y="455.49" width="10.80" height="10.31" fill="#1d4f8b" />
<line x1="190.00" y1="468.40" x2="190.00" y2="470.80" stroke="#222" stroke-width="0.8" />
<text x="190.60" y="478.40" font-size="7.6" fill="#222" stroke="#222" stroke-width="0.15" text-anchor="end" transform="rotate(-45 190.60 478.40)">CBL</text>
<rect x="198.00" y="423.18" width="10.80" height="28.39" fill="#c8102e" />
<rect x="198.00" y="451.57" width="10.80" height="14.23" fill="#1d4f8b" />
<line x1="203.40" y1="468.40" x2="203.40" y2="470.80" stroke="#222" stroke-width="0.8" />
<text x="204.00" y="478.40" font-size="7.6" fill="#222" stroke="#222" stroke-width="0.15" text-anchor="end" transform="rotate(-45 204.00 478.40)">NRAS</text>
<rect x="211.40" y="426.61" width="10.80" height="14.02" fill="#c8102e" />
<rect x="211.40" y="440.64" width="10.80" height="25.16" fill="#1d4f8b" />
<line x1="216.80" y1="468.40" x2="216.80" y2="470.80" stroke="#222" stroke-width="0.8" />
<text x="217.40" y="478.40" font-size="7.6" fill="#222" stroke="#222" stroke-width="0.15" text-anchor="end" transform="rotate(-45 217.40 478.40)">STAG2</text>
<rect x="224.80" y="430.05" width="10.80" height="32.86" fill="#c8102e" />
<rect x="224.80" y="462.91" width="10.80" height="2.89" fill="#1d4f8b" />
<line x1="230.20" y1="468.40" x2="230.20" y2="470.80" stroke="#222" stroke-width="0.8" />
<text x="230.80" y="478.40" font-size="7.6" fill="#222" stroke="#222" stroke-width="0.15" text-anchor="end" transform="rotate(-45 230.80 478.40)">TP53</text>
<rect x="238.20" y="430.74" width="10.80" height="26.12" fill="#c8102e" />
<rect x="238.20" y="456.86" width="10.80" height="8.94" fill="#1d4f8b" />
<line x1="243.60" y1="468.40" x2="243.60" y2="470.80" stroke="#222" stroke-width="0.8" />
<text x="244.20" y="478.40" font-size="7.6" fill="#222" stroke="#222" stroke-width="0.15" text-anchor="end" transform="rotate(-45 244.20 478.40)">+8</text>
<rect x="251.60" y="432.11" width="10.80" height="29.91" fill="#c8102e" />
<rect x="251.60" y="462.02" width="10.80" height="3.78" fill="#1d4f8b" />
<line x1="257.00" y1="468.40" x2="257.00" y2="470.80" stroke="#222" stroke-width="0.8" />
<text x="257.60" y="478.40" font-size="7.6" fill="#222" stroke="#222" stroke-width="0.15" text-anchor="end" transform="rotate(-45 257.60 478.40)">SETBP1</text>
<rect x="265.00" y="434.18" width="10.80" height="21.31" fill="#c8102e" />
<rect x="265.00" y="455.49" width="10.80" height="10.31" fill="#1d4f8b" />
<line x1="270.40" y1="468.40" x2="270.40" y2="470.80" stroke="#222" stroke-width="0.8" />
<text x="271.00" y="478.40" font-size="7.6" fill="#222" stroke="#222" stroke-width="0.15" text-anchor="end" transform="rotate(-45 271.00 478.40)">TET2</text>
<rect x="278.40" y="439.68" width="10.80" height="8.94" fill="#c8102e" />
<rect x="278.40" y="448.61" width="10.80" height="17.19" fill="#1d4f8b" />
<line x1="283.80" y1="468.40" x2="283.80" y2="470.80" stroke="#222" stroke-width="0.8" />
<text x="284.40" y="478.40" font-size="7.6" fill="#222" stroke="#222" stroke-width="0.15" text-anchor="end" transform="rotate(-45 284.40 478.40)">−Y</text>
<rect x="291.80" y="441.05" width="10.80" height="17.88" fill="#c8102e" />
<rect x="291.80" y="458.93" width="10.80" height="6.88" fill="#1d4f8b" />
<line x1="297.20" y1="468.40" x2="297.20" y2="470.80" stroke="#222" stroke-width="0.8" />
<text x="297.80" y="478.40" font-size="7.6" fill="#222" stroke="#222" stroke-width="0.15" text-anchor="end" transform="rotate(-45 297.80 478.40)">U2AF1</text>
<rect x="305.20" y="444.49" width="10.80" height="6.88" fill="#c8102e" />
<rect x="305.20" y="451.36" width="10.80" height="14.44" fill="#1d4f8b" />
<line x1="310.60" y1="468.40" x2="310.60" y2="470.80" stroke="#222" stroke-width="0.8" />
<text x="311.20" y="478.40" font-size="7.6" fill="#222" stroke="#222" stroke-width="0.15" text-anchor="end" transform="rotate(-45 311.20 478.40)">JAK2</text>
<rect x="318.60" y="444.49" width="10.80" height="10.31" fill="#c8102e" />
<rect x="318.60" y="454.80" width="10.80" height="11.00" fill="#1d4f8b" />
<line x1="324.00" y1="468.40" x2="324.00" y2="470.80" stroke="#222" stroke-width="0.8" />
<text x="324.60" y="478.40" font-size="7.6" fill="#222" stroke="#222" stroke-width="0.15" text-anchor="end" transform="rotate(-45 324.60 478.40)">NPM1</text>
<rect x="332.00" y="448.27" width="10.80" height="14.09" fill="#c8102e" />
<rect x="332.00" y="462.36" width="10.80" height="3.44" fill="#1d4f8b" />
<line x1="337.40" y1="468.40" x2="337.40" y2="470.80" stroke="#222" stroke-width="0.8" />
<text x="338.00" y="478.40" font-size="7.6" fill="#222" stroke="#222" stroke-width="0.15" text-anchor="end" transform="rotate(-45 338.00 478.40)">BCOR</text>
<rect x="345.40" y="448.27" width="10.80" height="3.09" fill="#c8102e" />
<rect x="345.40" y="451.36" width="10.80" height="14.44" fill="#1d4f8b" />
<line x1="350.80" y1="468.40" x2="350.80" y2="470.80" stroke="#222" stroke-width="0.8" />
<text x="351.40" y="478.40" font-size="7.6" fill="#222" stroke="#222" stroke-width="0.15" text-anchor="end" transform="rotate(-45 351.40 478.40)">FLT3</text>
<rect x="358.80" y="448.27" width="10.80" height="10.66" fill="#c8102e" />
<rect x="358.80" y="458.93" width="10.80" height="6.88" fill="#1d4f8b" />
<line x1="364.20" y1="468.40" x2="364.20" y2="470.80" stroke="#222" stroke-width="0.8" />
<text x="364.80" y="478.40" font-size="7.6" fill="#222" stroke="#222" stroke-width="0.15" text-anchor="end" transform="rotate(-45 364.80 478.40)">IDH2</text>
<rect x="372.20" y="452.05" width="10.80" height="13.75" fill="#c8102e" />
<line x1="377.60" y1="468.40" x2="377.60" y2="470.80" stroke="#222" stroke-width="0.8" />
<text x="378.20" y="478.40" font-size="7.6" fill="#222" stroke="#222" stroke-width="0.15" text-anchor="end" transform="rotate(-45 378.20 478.40)">CEBPA</text>
<rect x="385.60" y="452.05" width="10.80" height="9.97" fill="#c8102e" />
<rect x="385.60" y="462.02" width="10.80" height="3.78" fill="#1d4f8b" />
<line x1="391.00" y1="468.40" x2="391.00" y2="470.80" stroke="#222" stroke-width="0.8" />
<text x="391.60" y="478.40" font-size="7.6" fill="#222" stroke="#222" stroke-width="0.15" text-anchor="end" transform="rotate(-45 391.60 478.40)">KRAS</text>
<rect x="399.00" y="452.05" width="10.80" height="6.19" fill="#c8102e" />
<rect x="399.00" y="458.24" width="10.80" height="7.56" fill="#1d4f8b" />
<line x1="404.40" y1="468.40" x2="404.40" y2="470.80" stroke="#222" stroke-width="0.8" />
<text x="405.00" y="478.40" font-size="7.6" fill="#222" stroke="#222" stroke-width="0.15" text-anchor="end" transform="rotate(-45 405.00 478.40)">SMC3</text>
<rect x="412.40" y="452.74" width="10.80" height="3.44" fill="#c8102e" />
<rect x="412.40" y="456.18" width="10.80" height="9.62" fill="#1d4f8b" />
<line x1="417.80" y1="468.40" x2="417.80" y2="470.80" stroke="#222" stroke-width="0.8" />
<text x="418.40" y="478.40" font-size="7.6" fill="#222" stroke="#222" stroke-width="0.15" text-anchor="end" transform="rotate(-45 418.40 478.40)">del(20q)</text>
<rect x="425.80" y="454.11" width="10.80" height="7.91" fill="#c8102e" />
<rect x="425.80" y="462.02" width="10.80" height="3.78" fill="#1d4f8b" />
<line x1="431.20" y1="468.40" x2="431.20" y2="470.80" stroke="#222" stroke-width="0.8" />
<text x="431.80" y="478.40" font-size="7.6" fill="#222" stroke="#222" stroke-width="0.15" text-anchor="end" transform="rotate(-45 431.80 478.40)">MPL</text>
<rect x="439.20" y="455.14" width="10.80" height="6.88" fill="#c8102e" />
<rect x="439.20" y="462.02" width="10.80" height="3.78" fill="#1d4f8b" />
<line x1="444.60" y1="468.40" x2="444.60" y2="470.80" stroke="#222" stroke-width="0.8" />
<text x="445.20" y="478.40" font-size="7.6" fill="#222" stroke="#222" stroke-width="0.15" text-anchor="end" transform="rotate(-45 445.20 478.40)">GATA2</text>
<rect x="452.60" y="455.14" width="10.80" height="6.88" fill="#c8102e" />
<rect x="452.60" y="462.02" width="10.80" height="3.78" fill="#1d4f8b" />
<line x1="458.00" y1="468.40" x2="458.00" y2="470.80" stroke="#222" stroke-width="0.8" />
<text x="458.60" y="478.40" font-size="7.6" fill="#222" stroke="#222" stroke-width="0.15" text-anchor="end" transform="rotate(-45 458.60 478.40)">SF3B1</text>
<rect x="466.00" y="455.14" width="10.80" height="10.66" fill="#c8102e" />
<line x1="471.40" y1="468.40" x2="471.40" y2="470.80" stroke="#222" stroke-width="0.8" />
<text x="472.00" y="478.40" font-size="7.6" fill="#222" stroke="#222" stroke-width="0.15" text-anchor="end" transform="rotate(-45 472.00 478.40)">ZRSR2</text>
<line x1="114.70" y1="493.40" x2="141.60" y2="471.20" stroke="#222" stroke-width="1.0" />
<line x1="480.80" y1="468.50" x2="492.30" y2="509.20" stroke="#222" stroke-width="1.0" />
<text x="18.6" y="512.5" font-size="8.8" fill="#333" textLength="115.7" lengthAdjust="spacingAndGlyphs" transform="rotate(-90 18.2 512.5)"><tspan>Percentage of </tspan><tspan font-style="italic">DDX41</tspan><tspan font-size="6.2" dy="-3.2">MutGL</tspan><tspan dy="3.2"> patients</tspan></text>
<rect x="431.20" y="395.60" width="5.30" height="5.30" fill="#c8102e" />
<text x="439.20" y="401.30" font-size="8.5" fill="#222" textLength="55.20" lengthAdjust="spacingAndGlyphs" >Real-life patients</text>
<rect x="431.20" y="406.30" width="5.30" height="5.30" fill="#1d4f8b" />
<text x="439.20" y="412.00" font-size="8.5" fill="#222" textLength="70.60" lengthAdjust="spacingAndGlyphs" >Clinical trials patients</text>
<rect x="0.5" y="0.5" width="519" height="563" fill="none" stroke="#000" stroke-width="1.3"/>
</svg>
</body></html>
